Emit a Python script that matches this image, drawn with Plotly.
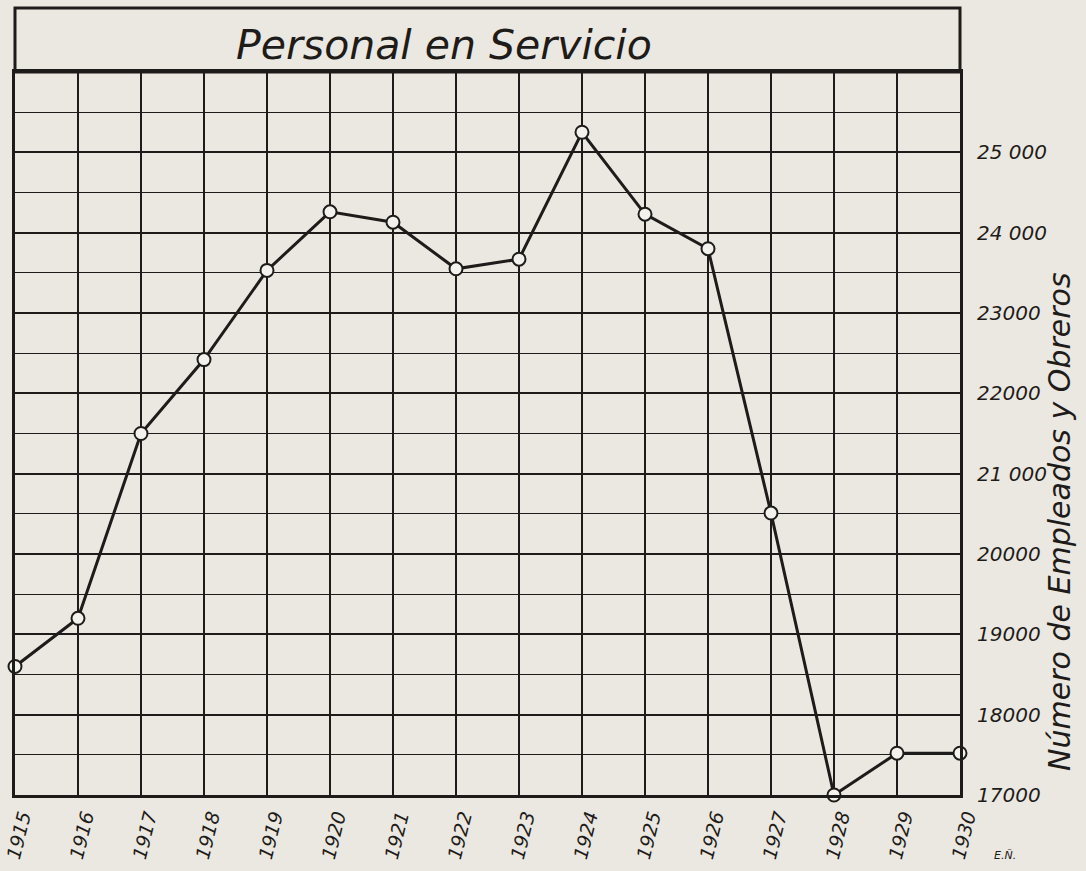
import plotly.graph_objects as go

years = list(range(1915, 1931))
personal = [18600, 19200, 21500, 22420, 23530, 24260, 24130, 23550,
            23670, 25250, 24230, 23800, 20510, 17000, 17520, 17520]
y_tick_vals = [17000, 18000, 19000, 20000, 21000, 22000, 23000, 24000, 25000]
y_tick_text = ["17000", "18000", "19000", "20000", "21 000", "22000", "23000", "24 000", "25 000"]
y_minor_vals = [17500, 18500, 19500, 20500, 21500, 22500, 23500, 24500, 25500]
x_tick_text = [str(y) for y in years]

title_text = "Personal en Servicio"
y_title = "Número de Empleados y Obreros"
signature = "E.Ñ."

paper = "#ebe8e1"
ink = "#1e1c1a"
font_family = "DejaVu Sans, Verdana, sans-serif"

fig = go.Figure()
fig.add_trace(go.Scatter(
    x=years, y=personal, mode="lines+markers",
    line=dict(color=ink, width=3),
    marker=dict(symbol="circle", size=13, color="#f4f2ec",
                line=dict(color=ink, width=2)),
    cliponaxis=False, showlegend=False, hoverinfo="x+y",
))

fig.update_layout(
    width=1086, height=871,
    margin=dict(l=15, r=126, t=72, b=76),
    paper_bgcolor=paper, plot_bgcolor=paper,
    font=dict(family=font_family, color=ink),
    xaxis=dict(
        range=[1915, 1930], tickvals=years, ticktext=x_tick_text,
        tickangle=-76, showgrid=True, gridcolor=ink, gridwidth=1.5,
        showline=True, linecolor=ink, linewidth=3, mirror=True,
        ticks="", zeroline=False, fixedrange=True, ticklabeloverflow="allow",
        automargin=False, ticklabelshift=7,
        tickfont=dict(size=19, style="italic", color=ink, family=font_family),
    ),
    yaxis=dict(
        range=[17000, 26000], side="right", tickvals=y_tick_vals,
        ticktext=y_tick_text, showgrid=True, gridcolor=ink, gridwidth=2.2,
        minor=dict(tickvals=y_minor_vals, showgrid=True, gridcolor=ink,
                   gridwidth=1.4, ticks=""),
        showline=True, linecolor=ink, linewidth=3, mirror=True,
        ticks="", zeroline=False, ticklabelstandoff=10, fixedrange=True,
        ticklabeloverflow="allow", automargin=False,
        tickfont=dict(size=20, style="italic", color=ink, family=font_family),
    ),
    shapes=[dict(type="rect", xref="paper", yref="paper",
                 x0=0, x1=1, y0=1, y1=1.0885,
                 line=dict(color=ink, width=3), fillcolor="rgba(0,0,0,0)")],
    annotations=[
        dict(text=title_text, xref="paper", yref="paper", x=0.4535, y=1.0373,
             xanchor="center", yanchor="middle", showarrow=False,
             font=dict(size=41, style="italic", color=ink, family=font_family)),
        dict(text=y_title, xref="paper", yref="paper", x=1.1057, y=0.3776,
             xanchor="center", yanchor="middle", textangle=-90, showarrow=False,
             font=dict(size=30, style="italic", color=ink, family=font_family)),
        dict(text=signature, xref="paper", yref="paper", x=1.0476, y=-0.083,
             xanchor="center", yanchor="middle", showarrow=False,
             font=dict(size=11, style="italic", color=ink, family=font_family)),
    ],
)

fig.write_html(
    "out.html",
    config={"displayModeBar": False},
    post_script="document.body.style.margin='0';"
                "document.body.style.background='%s';" % paper,
)
